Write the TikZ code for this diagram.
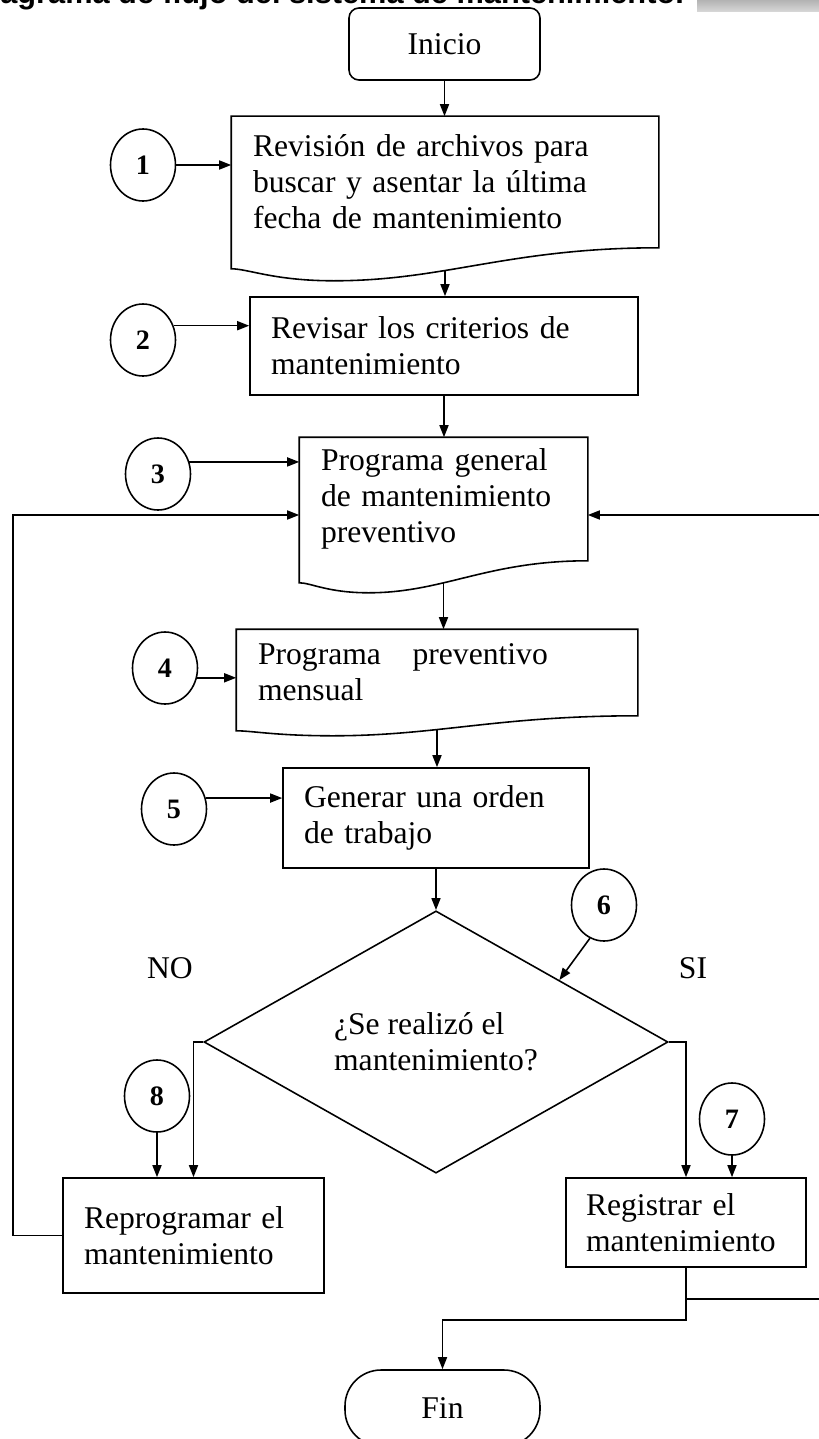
\documentclass[tikz,border=0pt]{standalone}
\usepackage{fontspec}
\setmainfont{Liberation Serif}
\newfontfamily\titlefont{Liberation Sans}
\usetikzlibrary{shapes.geometric,arrows.meta,calc}

\newcommand{\boxfont}{\fontsize{18}{20.5}\selectfont}
\newcommand{\numfont}{\fontsize{16}{18}\selectfont\bfseries}

% document box: wavy bottom drawn below the node
\newcommand{\docshape}[3]{%
  \draw[pen] ([yshift=-#2]#1.south west) -- (#1.north west) -- (#1.north east) -- (#1.south east)
    .. controls ($(#1.south west)!0.65!(#1.south east)$) and ($(#1.south west)!0.5!(#1.south east)+(0,-#3)$)
    .. ($(#1.south west)!0.24!(#1.south east)+(0,-#3)$)
    .. controls ($(#1.south west)!0.1!(#1.south east)+(0,-#3)$) and ($(#1.south west)!0.04!(#1.south east)+(0,-#2)$)
    .. ([yshift=-#2]#1.south west) -- cycle;
}

\tikzset{
  pen/.style={line width=0.9pt},
  flow/.style={pen,-{Triangle[length=0.24cm,width=0.18cm]}},
  proc/.style 2 args={draw,pen,text width=#1,minimum height=#2,align=left,
            inner xsep=0.42cm,inner ysep=0pt,font=\boxfont},
  docbox/.style 2 args={proc={#1}{#2},draw=none},
  numc/.style={ellipse,draw,pen,minimum width=1.3cm,minimum height=1.44cm,
            inner sep=0pt,font=\numfont},
  termbox/.style={draw,pen,font=\boxfont,inner sep=0pt},
}

\begin{document}
\begin{tikzpicture}
  \useasboundingbox (0,0) rectangle (16.38,-28.78);
  \clip (0,0) rectangle (16.38,-28.78);

  % cut title strip
  \fill[top color=gray!60,bottom color=gray!30] (13.94,0) rectangle (16.38,-0.24);
  \node[anchor=base west,inner sep=0pt,font=\titlefont\fontsize{17.5}{20}\selectfont\bfseries]
    (title) at (-0.616,-0.07) {Diagrama de flujo del sistema de mantenimiento.};

  % main column
  \node[termbox,rounded corners=0.2cm,minimum width=3.82cm,minimum height=1.44cm]
    (inicio) at (8.89,-0.88) {Inicio};
  \node[docbox={7.68cm}{2.6cm}] (b1) at (8.90,-3.64)
    {Revisión de archivos para\\buscar y asentar la última\\fecha de mantenimiento};
  \docshape{b1}{0.42cm}{0.66cm}
  \node[proc={6.92cm}{1.96cm}] (b2) at (8.88,-6.92)
    {Revisar los criterios de\\mantenimiento};
  \node[docbox={4.90cm}{2.44cm}] (b3) at (8.87,-9.98)
    {Programa general\\de mantenimiento\\preventivo};
  \docshape{b3}{0.44cm}{0.64cm}
  \node[docbox={7.16cm}{1.7cm}] (b4) at (8.74,-13.45)
    {Programa~~~preventivo\\mensual};
  \docshape{b4}{0.3cm}{0.4cm}
  \node[proc={5.28cm}{2.0cm}] (b5) at (8.72,-16.36)
    {Generar una orden\\de trabajo};
  \node[diamond,draw,pen,minimum width=9.28cm,minimum height=5.0cm,inner sep=0pt,
        align=left,font=\boxfont] (dec) at (8.72,-20.84)
    {¿Se realizó el\\mantenimiento?};
  \node[proc={4.38cm}{2.3cm}] (b6) at (3.87,-24.71)
    {Reprogramar el\\mantenimiento};
  \node[proc={4.0cm}{1.78cm},inner xsep=0.4cm] (b7) at (13.72,-24.45)
    {Registrar el\\mantenimiento};
  \node[termbox,rounded corners=0.72cm,minimum width=3.9cm,minimum height=1.52cm]
    (fin) at (8.85,-28.16) {Fin};

  % numbered circles
  \node[numc] (c1) at (2.86,-3.30) {1};
  \node[numc] (c2) at (2.86,-6.80) {2};
  \node[numc] (c3) at (3.16,-9.48) {3};
  \node[numc] (c4) at (3.30,-13.36) {4};
  \node[numc] (c5) at (3.48,-16.18) {5};
  \node[numc] (c6) at (12.08,-18.10) {6};
  \node[numc] (c7) at (14.64,-22.38) {7};
  \node[numc] (c8) at (3.14,-21.92) {8};

  \node[font=\boxfont] (no) at (3.40,-19.36) {NO};
  \node[font=\boxfont] (si) at (13.86,-19.36) {SI};

  % flow
  \draw[flow] (inicio) -- (inicio.south |- b1.north);
  \draw[flow] ([yshift=-0.45cm]b1.south) -- (b1.south |- b2.north);
  \draw[flow] (b2.south) -- (b2.south |- b3.north);
  \draw[flow] ([yshift=-0.43cm]b3.south) -- (b3.south |- b4.north);
  \draw[flow] ([yshift=-0.27cm]b4.south) -- (b4.south |- b5.north);
  \draw[flow] (b5.south) -- (dec.north);
  \draw[flow] (dec.west) -| (b6.north);
  \draw[flow] (dec.east) -| (b7.north);
  \draw[flow] (b7.south) -- ++(0,-1.04) -| (fin.north);
  \coordinate (jn) at ([yshift=-0.62cm]b7.south);
  \draw[flow] (jn) -- ++(3.0,0) |- ($(b3.east)+(0,-0.32)$);
  \draw[flow] (b6.west) -- ++(-0.98,0) |- ($(b3.west)+(0,-0.32)$);

  % circle inputs
  \draw[flow] (c1.east) -- (c1.east -| b1.west);
  \draw[flow] (c2.25) -- (c2.25 -| b2.west);
  \draw[flow] (c3.21) -- (c3.21 -| b3.west);
  \draw[flow] (c4.-17) -- (c4.-17 -| b4.west);
  \draw[flow] (c5.19) -- (c5.19 -| b5.west);
  \draw[flow] (c6.247) -- ($(dec.north)!0.53!(dec.east)$);
  \draw[flow] (c7.south) -- (c7.south |- b7.north);
  \draw[flow] (c8.south) -- (c8.south |- b6.north);
\end{tikzpicture}
\end{document}
